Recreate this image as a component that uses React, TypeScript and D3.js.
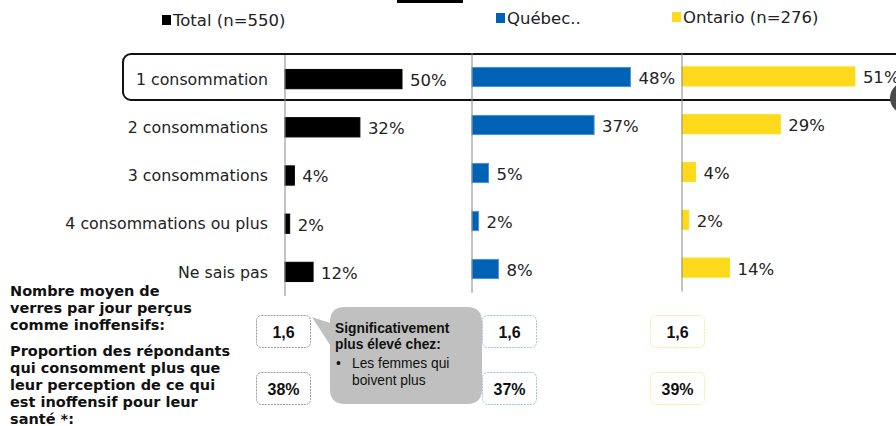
import * as d3 from 'd3';

const categories = ['1 consommation', '2 consommations', '3 consommations', '4 consommations ou plus', 'Ne sais pas'];
const totalValues = [50, 32, 4, 2, 12];
const quebecValues = [48, 37, 5, 2, 8];
const ontarioValues = [51, 29, 4, 2, 14];
const legendLabels = ['Total (n=550)', 'Québec..', 'Ontario (n=276)'];
const meanValues = ['1,6', '1,6', '1,6'];
const proportionValues = ['38%', '37%', '39%'];
const leftNotes1 = ['Nombre moyen de', 'verres par jour perçus', 'comme inoffensifs:'];
const leftNotes2 = ['Proportion des répondants', 'qui consomment plus que', 'leur perception de ce qui', 'est inoffensif pour leur', 'santé *:'];

const W = 896;
const H = 426;
const FONT = '"DejaVu Sans", Verdana, sans-serif';
const ARIAL = '"Liberation Sans", Arial, sans-serif';

// each panel has its own baseline, width-per-percent and vertical band
const panels = [
  { values: totalValues, x0: 285, width: 234, y: [55, 296], color: '#000000', stroke: '#000000', box: 256, boxStroke: '#999999' },
  { values: quebecValues, x0: 472, width: 330, y: [53, 293], color: '#0062b4', stroke: '#4f8fd0', box: 482, boxStroke: '#9cc4ea' },
  { values: ontarioValues, x0: 682, width: 339, y: [52.5, 291.5], color: '#ffda1c', stroke: '#ffda1c', box: 650, boxStroke: '#fbe88c' },
];

const legendPos = [
  { x: 162, y: 20 },
  { x: 496, y: 18 },
  { x: 672, y: 17 },
];

const App = () => {
  const rowY = d3.scaleBand<string>().domain(categories).range([55, 296]).paddingInner(0.6).paddingOuter(0.3);

  return (
    <div style={{ position: 'fixed', left: 0, top: 0 }}>
      <svg width={W} height={H} viewBox={`0 0 ${W} ${H}`} style={{ display: 'block', background: '#fff' }}>
        {/* cropped title fragment */}
        <rect x={397} y={0} width={66} height={3} fill="#000" />

        {/* legend */}
        {legendLabels.map((l, i) => (
          <g key={l} transform={`translate(${legendPos[i].x},${legendPos[i].y})`}>
            <rect x={0} y={-5} width={9} height={10} fill={panels[i].color} />
            <text x={11} y={0} dy="0.36em" fontFamily={FONT} fontSize={16.5} fill="#222">{l}</text>
          </g>
        ))}

        {/* highlight around the first row */}
        <rect x={123} y={54} width={800} height={46} rx={8} fill="none" stroke="#111" strokeWidth={2} />
        <ellipse cx={906} cy={98} rx={16} ry={16} fill="#4a4a4a" />

        {/* category labels */}
        {categories.map(c => (
          <text key={c} x={268} y={(rowY(c) ?? 0) + rowY.bandwidth() / 2} dy="0.36em" textAnchor="end"
            fontFamily={FONT} fontSize={15.8} fill="#222">{c}</text>
        ))}

        {/* bar panels */}
        {panels.map((p, pi) => {
          const x = d3.scaleLinear().domain([0, 100]).range([p.x0, p.x0 + p.width]);
          const y = d3.scaleBand<string>().domain(categories).range(p.y as [number, number]).paddingInner(0.6).paddingOuter(0.3);
          return (
            <g key={pi}>
              {categories.map((c, i) => {
                const v = p.values[i];
                const yy = y(c) ?? 0;
                return (
                  <g key={c}>
                    <rect x={x(0)} y={yy} width={x(v) - x(0)} height={y.bandwidth()} fill={p.color}
                      stroke={p.stroke} strokeWidth={1} />
                    <text x={x(v) + 8} y={yy + y.bandwidth() / 2 + 1} dy="0.36em" fontFamily={FONT}
                      fontSize={16.5} fill="#222">{v}%</text>
                  </g>
                );
              })}
              <line x1={p.x0} x2={p.x0} y1={p.y[0]} y2={p.y[1]} stroke="#888" strokeWidth={1} />
            </g>
          );
        })}

        {/* left notes */}
        {leftNotes1.map((t, i) => (
          <text key={t} x={10} y={296 + i * 17} fontFamily={FONT} fontWeight="bold" fontSize={14.5} fill="#111">{t}</text>
        ))}
        {leftNotes2.map((t, i) => (
          <text key={t} x={10} y={356 + i * 17} fontFamily={FONT} fontWeight="bold" fontSize={14.5} fill="#111">{t}</text>
        ))}

        {/* callout */}
        <path d="M345,307 H467 Q482,307 482,322 V389 Q482,404 467,404 H345 Q330,404 330,389 V345 L312,317 L330,323 V322 Q330,307 345,307 Z"
          fill="#c0c0c0" />
        <text x={335} y={333} fontFamily={ARIAL} fontWeight="bold" fontSize={13.8} fill="#111">Significativement</text>
        <text x={335} y={349} fontFamily={ARIAL} fontWeight="bold" fontSize={13.8} fill="#111">plus élevé chez:</text>
        <text x={336} y={368} fontFamily={ARIAL} fontSize={13.8} fill="#111">•</text>
        <text x={352} y={368} fontFamily={ARIAL} fontSize={13.8} fill="#111">Les femmes qui</text>
        <text x={352} y={385} fontFamily={ARIAL} fontSize={13.8} fill="#111">boivent plus</text>

        {/* summary boxes */}
        {panels.map((p, i) => (
          <g key={`b${i}`}>
            {[meanValues[i], proportionValues[i]].map((v, j) => (
              <g key={j} transform={`translate(${p.box},${315 + j * 57})`}>
                <rect x={0.5} y={0.5} width={54} height={32} rx={5} fill="#fff" stroke={p.boxStroke}
                  strokeWidth={1} strokeDasharray="2,1" />
                <text x={27.5} y={17} dy="0.36em" textAnchor="middle" fontFamily={ARIAL} fontWeight="bold"
                  fontSize={16} fill="#111">{v}</text>
              </g>
            ))}
          </g>
        ))}
      </svg>
    </div>
  );
};

export default App;
